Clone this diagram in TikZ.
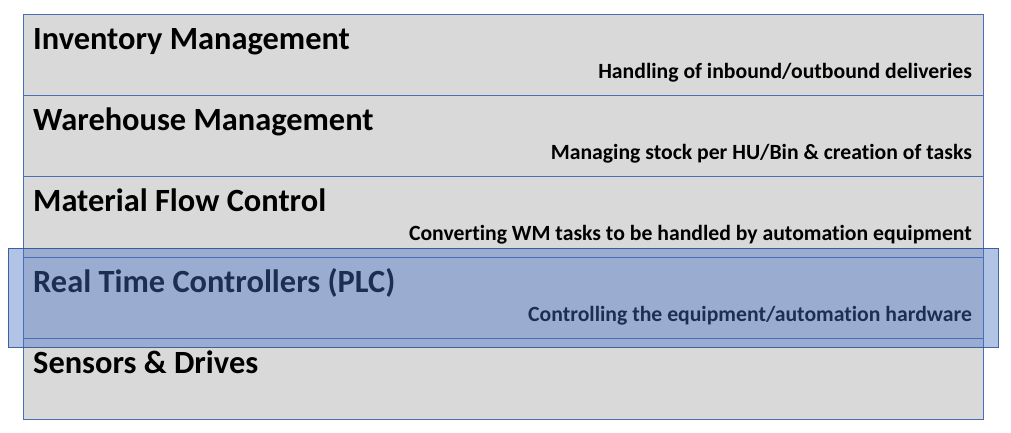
\documentclass[tikz,border=0pt]{standalone}
\usepackage{fontspec}
\setmainfont{Carlito}[Ligatures=NoCommon]
\definecolor{rowfill}{HTML}{D9D9D9}
\definecolor{rowline}{HTML}{4A6FB5}
\definecolor{ovfill}{HTML}{4472C4}
\definecolor{ovline}{HTML}{2F5597}
\begin{document}
\begin{tikzpicture}[x=1pt,y=1pt,
  rowbox/.style={draw=rowline, line width=0.8pt, fill=rowfill, inner sep=0pt, outer sep=0pt,
    minimum width=960pt, minimum height=81pt, anchor=north west},
  ttl/.style={font=\bfseries\fontsize{32.4}{34}\selectfont, inner sep=0pt, anchor=base west},
  sub/.style={font=\bfseries\fontsize{21.7}{23}\selectfont, inner sep=0pt, anchor=base east},
  overlay/.style={draw=ovline, line width=0.8pt, fill=ovfill, fill opacity=0.42, draw opacity=0.9,
    inner sep=0pt, outer sep=0pt, minimum width=990pt, minimum height=99pt, anchor=north west}]
\useasboundingbox (0,0) rectangle (1011,-432);
\node[rowbox] (r1) at (23,-14) {};
\node[rowbox] (r2) at (23,-95) {};
\node[rowbox] (r3) at (23,-176) {};
\node[rowbox] (r4) at (23,-257) {};
\node[rowbox] (r5) at (23,-338) {};
\node[ttl] (t1) at (33,-49.5) {Inventory Management};
\node[ttl] (t2) at (33,-130.5) {Warehouse Management};
\node[ttl] (t3) at (33,-211.5) {Material Flow Control};
\node[ttl] (t4) at (33,-292.5) {Real Time Controllers (PLC)};
\node[ttl] (t5) at (33,-373.5) {Sensors \& Drives};
\node[sub] (s1) at (972,-78) {Handling of inbound/outbound deliveries};
\node[sub] (s2) at (972,-159) {Managing stock per HU/Bin \& creation of tasks};
\node[sub] (s3) at (972,-240) {Converting WM tasks to be handled by automation equipment};
\node[sub] (s4) at (972,-321) {Controlling the equipment/automation hardware};
\node[overlay] (ov) at (8,-248) {};
\end{tikzpicture}
\end{document}
